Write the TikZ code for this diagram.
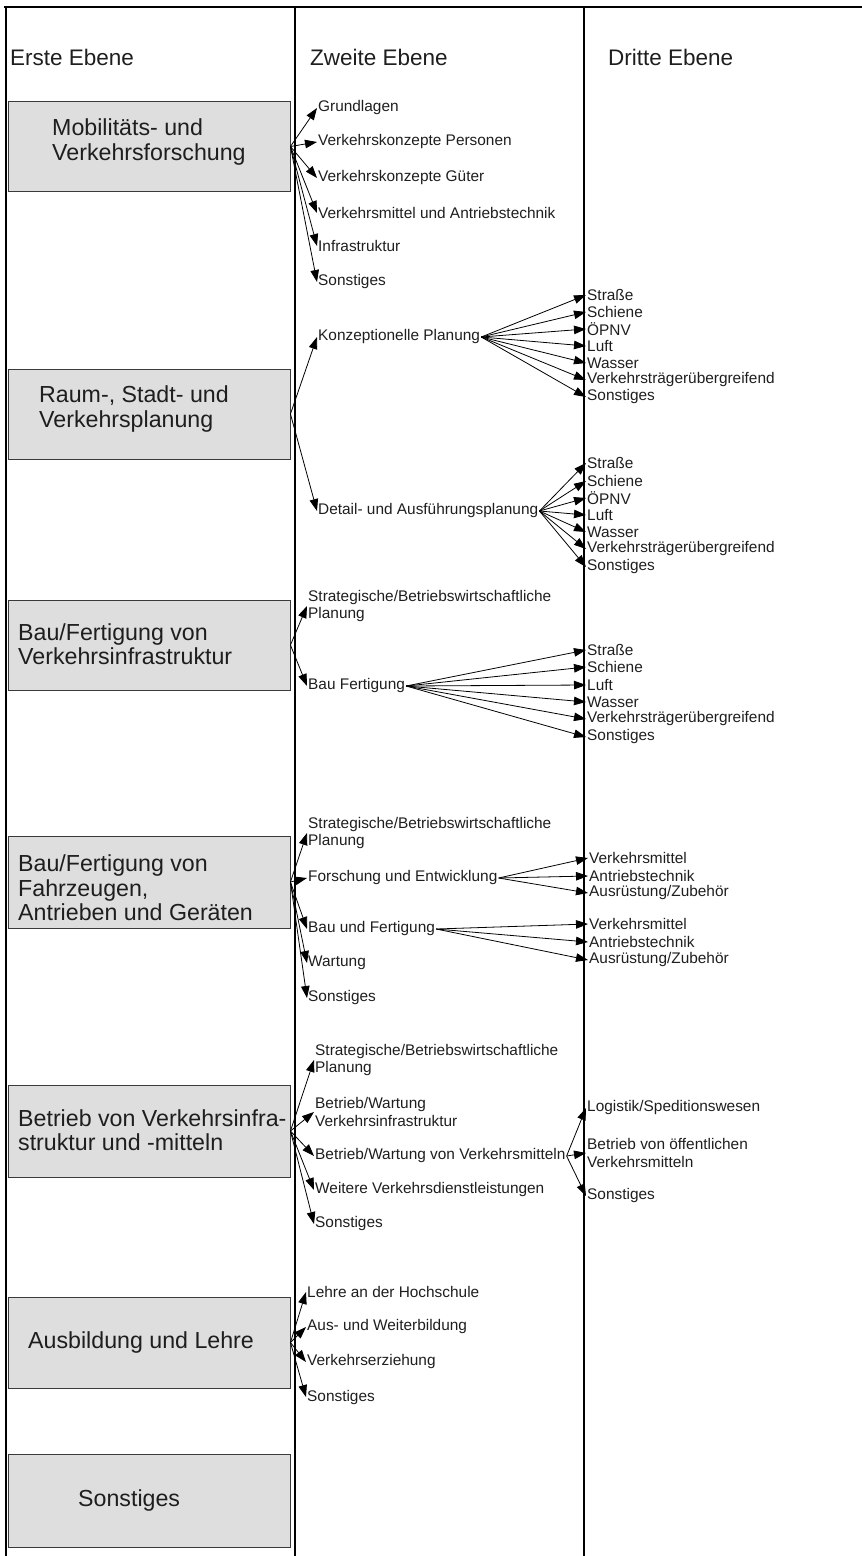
\documentclass[tikz,border=0pt]{standalone}
\usepackage{fontspec}
\setmainfont{Liberation Sans}
\usetikzlibrary{arrows.meta}
\definecolor{boxgray}{HTML}{DEDEDE}
\definecolor{boxline}{HTML}{3A3A3A}
\definecolor{ink}{HTML}{1E1E1E}

\begin{document}
\begin{tikzpicture}[x=1pt,y=-1pt,>={Triangle[length=12pt,width=8.5pt]},
  box/.style={draw=boxline,fill=boxgray,line width=0.9pt,minimum width=282pt,minimum height=90pt,inner sep=0pt},
  head/.style={anchor=west,inner sep=0pt,text=ink,font=\fontsize{22.5}{27}\selectfont},
  big/.style={anchor=west,inner sep=0pt,align=left,text=ink,font=\fontsize{23.2}{24.5}\selectfont},
  item/.style={anchor=west,inner sep=1pt,align=left,text=ink,font=\fontsize{15.4}{17.5}\selectfont},
  link/.style={->,line width=0.8pt}]
  \useasboundingbox (0,0) rectangle (862,1556);
  \draw[line width=1.4pt] (4,7) -- (862,7);
  \draw[line width=1.4pt] (6,7) -- (6,1556);
  \draw[line width=1.4pt] (295,7) -- (295,1556);
  \draw[line width=1.4pt] (584,7) -- (584,1556);

  \node[head] (erste) at (10,57) {Erste Ebene};
  \node[head] (zweite) at (310,57) {Zweite Ebene};
  \node[head] (dritte) at (608,57) {Dritte Ebene};

  \node[box] (mob) at (149,146.5) {};
  \node[box] (raum) at (149,414) {};
  \node[box] (bauinf) at (149,645) {};
  \node[box,minimum height=92pt] (baufz) at (149,882) {};
  \node[box,minimum height=92pt] (betr) at (149,1131) {};
  \node[box,minimum height=91pt] (ausb) at (149,1342.5) {};
  \node[box,minimum height=93pt] (sonst) at (149,1500.5) {};

  \node[big] (mobtxt) at (52,142) {Mobilitäts- und\\Verkehrsforschung};
  \node[big] (raumtxt) at (39,409) {Raum-, Stadt- und\\Verkehrsplanung};
  \node[big] (bauinftxt) at (18,644) {Bau/Fertigung von\\Verkehrsinfrastruktur};
  \node[big] (baufztxt) at (18,888) {Bau/Fertigung von\\Fahrzeugen,\\Antrieben und Geräten};
  \node[big] (betrtxt) at (18,1130) {Betrieb von Verkehrsinfra-\\struktur und -mitteln};
  \node[big] (ausbtxt) at (28,1342) {Ausbildung und Lehre};
  \node[big] (sonsttxt) at (78,1500) {Sonstiges};

  \node[item] (grund) at (317,108) {Grundlagen};
  \node[item] (pers) at (317,142) {Verkehrskonzepte Personen};
  \node[item] (gueter) at (317,178) {Verkehrskonzepte Güter};
  \node[item] (antr) at (317,213) {Verkehrsmittel und Antriebstechnik};
  \node[item] (infra) at (317,246) {Infrastruktur};
  \node[item] (sonst1) at (317,282) {Sonstiges};
  \draw[link] (mob.east) -- (grund.west);
  \draw[link] (mob.east) -- (pers.west);
  \draw[link] (mob.east) -- (gueter.west);
  \draw[link] (mob.east) -- (antr.west);
  \draw[link] (mob.east) -- (infra.west);
  \draw[link] (mob.east) -- (sonst1.west);

  \node[item] (konz) at (317,337) {Konzeptionelle Planung};
  \node[item] (det) at (317,511) {Detail- und Ausführungsplanung};
  \draw[link] (raum.east) -- (konz.west);
  \draw[link] (raum.east) -- (det.west);

  \node[item] (k1) at (586,295) {Straße};
  \node[item] (k2) at (586,312) {Schiene};
  \node[item] (k3) at (586,329) {ÖPNV};
  \node[item] (k4) at (586,346) {Luft};
  \node[item] (k5) at (586,363) {Wasser};
  \node[item] (k6) at (586,380) {Verkehrsträgerübergreifend};
  \node[item] (k7) at (586,397) {Sonstiges};
  \draw[link] (konz.east) -- (k1.west);
  \draw[link] (konz.east) -- (k2.west);
  \draw[link] (konz.east) -- (k3.west);
  \draw[link] (konz.east) -- (k4.west);
  \draw[link] (konz.east) -- (k5.west);
  \draw[link] (konz.east) -- (k6.west);
  \draw[link] (konz.east) -- (k7.west);

  \node[item] (d1) at (586,463) {Straße};
  \node[item] (d2) at (586,481) {Schiene};
  \node[item] (d3) at (586,498) {ÖPNV};
  \node[item] (d4) at (586,515) {Luft};
  \node[item] (d5) at (586,532) {Wasser};
  \node[item] (d6) at (586,549) {Verkehrsträgerübergreifend};
  \node[item] (d7) at (586,567) {Sonstiges};
  \draw[link] (det.east) -- (d1.west);
  \draw[link] (det.east) -- (d2.west);
  \draw[link] (det.east) -- (d3.west);
  \draw[link] (det.east) -- (d4.west);
  \draw[link] (det.east) -- (d5.west);
  \draw[link] (det.east) -- (d6.west);
  \draw[link] (det.east) -- (d7.west);

  \node[item] (strat1) at (307,606) {Strategische/Betriebswirtschaftliche\\Planung};
  \node[item] (bfert) at (307,686) {Bau Fertigung};
  \draw[link] (bauinf.east) -- (strat1.west);
  \draw[link] (bauinf.east) -- (bfert.west);

  \node[item] (b1) at (586,650) {Straße};
  \node[item] (b2) at (586,667) {Schiene};
  \node[item] (b3) at (586,685) {Luft};
  \node[item] (b4) at (586,702) {Wasser};
  \node[item] (b5) at (586,719) {Verkehrsträgerübergreifend};
  \node[item] (b6) at (586,737) {Sonstiges};
  \draw[link] (bfert.east) -- (b1.west);
  \draw[link] (bfert.east) -- (b2.west);
  \draw[link] (bfert.east) -- (b3.west);
  \draw[link] (bfert.east) -- (b4.west);
  \draw[link] (bfert.east) -- (b5.west);
  \draw[link] (bfert.east) -- (b6.west);

  \node[item] (strat2) at (307,833) {Strategische/Betriebswirtschaftliche\\Planung};
  \node[item] (forsch) at (307,878) {Forschung und Entwicklung};
  \node[item] (bauund) at (307,929) {Bau und Fertigung};
  \node[item] (wart) at (307,963) {Wartung};
  \node[item] (sonst4) at (307,998) {Sonstiges};
  \draw[link] (baufz.east) -- (strat2.west);
  \draw[link] (baufz.east) -- (forsch.west);
  \draw[link] (baufz.east) -- (bauund.west);
  \draw[link] (baufz.east) -- (wart.west);
  \draw[link] (baufz.east) -- (sonst4.west);

  \node[item] (f1) at (588,858) {Verkehrsmittel};
  \node[item] (f2) at (588,876) {Antriebstechnik};
  \node[item] (f3) at (588,893) {Ausrüstung/Zubehör};
  \draw[link] (forsch.east) -- (f1.west);
  \draw[link] (forsch.east) -- (f2.west);
  \draw[link] (forsch.east) -- (f3.west);

  \node[item] (u1) at (588,924) {Verkehrsmittel};
  \node[item] (u2) at (588,942) {Antriebstechnik};
  \node[item] (u3) at (588,960) {Ausrüstung/Zubehör};
  \draw[link] (bauund.east) -- (u1.west);
  \draw[link] (bauund.east) -- (u2.west);
  \draw[link] (bauund.east) -- (u3.west);

  \node[item] (strat3) at (314,1060) {Strategische/Betriebswirtschaftliche\\Planung};
  \node[item] (betrinf) at (314,1112) {Betrieb/Wartung\\Verkehrsinfrastruktur};
  \node[item] (betrvm) at (314,1156) {Betrieb/Wartung von Verkehrsmitteln};
  \node[item] (weit) at (314,1190) {Weitere Verkehrsdienstleistungen};
  \node[item] (sonst5) at (314,1224) {Sonstiges};
  \draw[link] (betr.east) -- (strat3.west);
  \draw[link] (betr.east) -- (betrinf.west);
  \draw[link] (betr.east) -- (betrvm.west);
  \draw[link] (betr.east) -- (weit.west);
  \draw[link] (betr.east) -- (sonst5.west);

  \node[item] (log) at (586,1108) {Logistik/Speditionswesen};
  \node[item] (oeff) at (586,1153) {Betrieb von öffentlichen\\Verkehrsmitteln};
  \node[item] (sonst5b) at (586,1196) {Sonstiges};
  \draw[link] (betrvm.east) -- (log.west);
  \draw[link] (betrvm.east) -- (oeff.west);
  \draw[link] (betrvm.east) -- (sonst5b.west);

  \node[item] (lehre) at (306,1292) {Lehre an der Hochschule};
  \node[item] (ausw) at (306,1327) {Aus- und Weiterbildung};
  \node[item] (erz) at (306,1362) {Verkehrserziehung};
  \node[item] (sonst6) at (306,1397) {Sonstiges};
  \draw[link] (ausb.east) -- (lehre.west);
  \draw[link] (ausb.east) -- (ausw.west);
  \draw[link] (ausb.east) -- (erz.west);
  \draw[link] (ausb.east) -- (sonst6.west);
\end{tikzpicture}
\end{document}
